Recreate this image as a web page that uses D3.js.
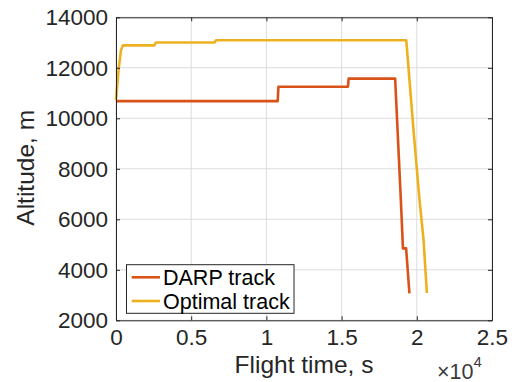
<!DOCTYPE html>
<html>
<head>
<meta charset="utf-8">
<script src="https://cdn.jsdelivr.net/npm/d3@7"></script>
<style>
  html, body { margin: 0; padding: 0; background: #fff; }
  svg { display: block; font-family: "Liberation Sans", Arial, Helvetica, sans-serif; }
</style>
</head>
<body>
<svg id="chart" width="515" height="382"></svg>
<script>
// ---- data (time in s, altitude in m) ----
const darpTime = [0, 10750, 10800, 15420, 15470, 18560, 18720, 18940, 19080, 19290, 19510];
const darpAlt  = [10680, 10680, 11250, 11250, 11570, 11570, 9540, 6760, 4850, 4850, 3070];
const optTime  = [0, 170, 330, 460, 2550, 2650, 6550, 6650, 19300, 19780, 20180, 20450, 20670];
const optAlt   = [10720, 11910, 12700, 12890, 12890, 13000, 13000, 13090, 13090, 9540, 6760, 5180, 3080];
const xTicks = [0, 5000, 10000, 15000, 20000, 25000];
const xTickLabels = ["0", "0.5", "1", "1.5", "2", "2.5"];
const yTicks = [2000, 4000, 6000, 8000, 10000, 12000, 14000];
const seriesNames = ["DARP track", "Optimal track"];
const seriesColors = ["#D95319", "#EDB120"];

const svg = d3.select("#chart");
const L = 116, R = 492, T = 17.3, B = 320.3;
const x = d3.scaleLinear().domain([0, 25000]).range([L, R]);
const y = d3.scaleLinear().domain([2000, 14000]).range([B, T]);
const axisColor = "#262626";
const tickFont = 22.5;

// grid
const g = svg.append("g");
g.selectAll("line.vx").data(xTicks).enter().append("line")
  .attr("x1", d => x(d)).attr("x2", d => x(d)).attr("y1", T).attr("y2", B)
  .attr("stroke", "#dcdcdc").attr("stroke-width", 1);
g.selectAll("line.hy").data(yTicks).enter().append("line")
  .attr("x1", L).attr("x2", R).attr("y1", d => y(d)).attr("y2", d => y(d))
  .attr("stroke", "#dcdcdc").attr("stroke-width", 1);

// lines
const series = [
  { t: darpTime, a: darpAlt },
  { t: optTime, a: optAlt }
];
const line = d3.line().x(d => x(d[0])).y(d => y(d[1]));
series.forEach((s, i) => {
  const pts = s.t.map((t, k) => [t, s.a[k]]);
  svg.append("path").datum(pts).attr("d", line)
    .attr("fill", "none").attr("stroke", seriesColors[i])
    .attr("stroke-width", 2.6).attr("stroke-linejoin", "round");
});

// axes with inward ticks (box on)
const tl = 4;
const xAxisB = d3.axisBottom(x).tickValues(xTicks).tickSize(-tl).tickSizeOuter(0).tickFormat((d, i) => xTickLabels[i]).tickPadding(8);
const xAxisT = d3.axisTop(x).tickValues(xTicks).tickSize(-tl).tickSizeOuter(0).tickFormat("");
const yAxisL = d3.axisLeft(y).tickValues(yTicks).tickSize(-tl).tickSizeOuter(0).tickFormat(d3.format("d")).tickPadding(8);
const yAxisR = d3.axisRight(y).tickValues(yTicks).tickSize(-tl).tickSizeOuter(0).tickFormat("");

function style(sel) {
  sel.selectAll("path.domain").attr("stroke", axisColor).attr("stroke-width", 1);
  sel.selectAll(".tick line").attr("stroke", axisColor).attr("stroke-width", 1);
  sel.selectAll(".tick text").attr("fill", axisColor).style("font-size", tickFont + "px")
    .style("font-family", "'Liberation Sans', Arial, sans-serif");
}
svg.append("g").attr("transform", `translate(0,${B})`).call(xAxisB).call(style)
  .selectAll(".tick text").attr("dy", "0.74em");
svg.append("g").attr("transform", `translate(0,${T})`).call(xAxisT).call(style);
svg.append("g").attr("transform", `translate(${L},0)`).call(yAxisL).call(style);
svg.append("g").attr("transform", `translate(${R},0)`).call(yAxisR).call(style);

// axis labels
svg.append("text").attr("x", (L + R) / 2).attr("y", 373)
  .attr("text-anchor", "middle").attr("fill", axisColor)
  .style("font-size", "24.5px").text("Flight time, s");
svg.append("text").attr("transform", `translate(34,${(T + B) / 2 - 1}) rotate(-90)`)
  .attr("text-anchor", "middle").attr("fill", axisColor)
  .style("font-size", "24.5px").text("Altitude, m");

// exponent label
const ex = svg.append("text").attr("x", 437).attr("y", 378.5).attr("fill", "#3a3a3a")
  .style("font-size", "21.5px");
ex.append("tspan").text("\u00d710");
ex.append("tspan").attr("dy", -12).style("font-size", "15px").text("4");

// legend
const lg = svg.append("g");
lg.append("rect").attr("x", 126.5).attr("y", 264.7).attr("width", 167.5).attr("height", 48.6)
  .attr("fill", "#fff").attr("stroke", axisColor).attr("stroke-width", 1);
const legY = [277.3, 301];
seriesNames.forEach((n, i) => {
  lg.append("line").attr("x1", 131.7).attr("x2", 160).attr("y1", legY[i]).attr("y2", legY[i])
    .attr("stroke", seriesColors[i]).attr("stroke-width", 2.6);
  lg.append("text").attr("x", 163).attr("y", legY[i]).attr("dy", "0.36em")
    .attr("fill", "#000").style("font-size", "21.5px").text(n);
});
</script>
</body>
</html>
